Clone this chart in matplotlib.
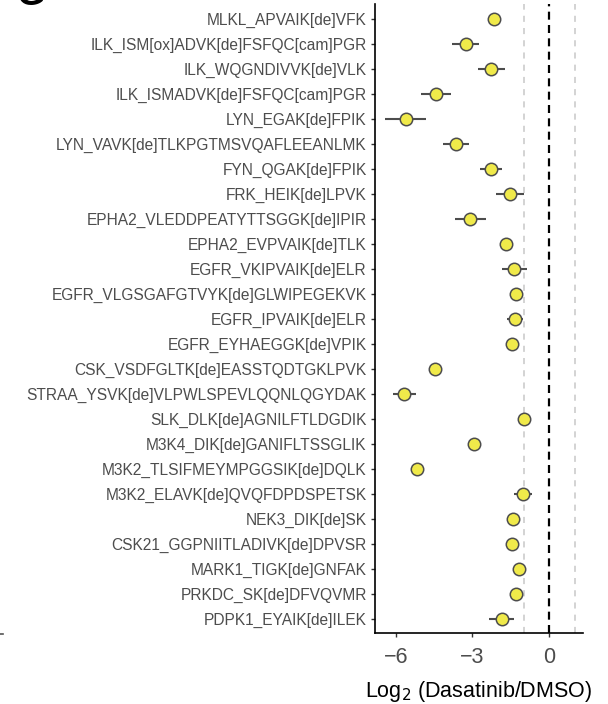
import numpy as np
import matplotlib
matplotlib.use("Agg")
from matplotlib import pyplot as plt
from matplotlib.lines import Line2D

plt.rcParams['font.family'] = ['Liberation Sans', 'DejaVu Sans']

# peptides, top to bottom
peptides = [
    "MLKL_APVAIK[de]VFK",
    "ILK_ISM[ox]ADVK[de]FSFQC[cam]PGR",
    "ILK_WQGNDIVVK[de]VLK",
    "ILK_ISMADVK[de]FSFQC[cam]PGR",
    "LYN_EGAK[de]FPIK",
    "LYN_VAVK[de]TLKPGTMSVQAFLEEANLMK",
    "FYN_QGAK[de]FPIK",
    "FRK_HEIK[de]LPVK",
    "EPHA2_VLEDDPEATYTTSGGK[de]IPIR",
    "EPHA2_EVPVAIK[de]TLK",
    "EGFR_VKIPVAIK[de]ELR",
    "EGFR_VLGSGAFGTVYK[de]GLWIPEGEKVK",
    "EGFR_IPVAIK[de]ELR",
    "EGFR_EYHAEGGK[de]VPIK",
    "CSK_VSDFGLTK[de]EASSTQDTGKLPVK",
    "STRAA_YSVK[de]VLPWLSPEVLQQNLQGYDAK",
    "SLK_DLK[de]AGNILFTLDGDIK",
    "M3K4_DIK[de]GANIFLTSSGLIK",
    "M3K2_TLSIFMEYMPGGSIK[de]DQLK",
    "M3K2_ELAVK[de]QVQFDPDSPETSK",
    "NEK3_DIK[de]SK",
    "CSK21_GGPNIITLADIVK[de]DPVSR",
    "MARK1_TIGK[de]GNFAK",
    "PRKDC_SK[de]DFVQVMR",
    "PDPK1_EYAIK[de]ILEK",
]

log2fc = [-2.16, -3.27, -2.26, -4.44, -5.61, -3.65, -2.26, -1.52, -3.09, -1.69,
          -1.36, -1.31, -1.33, -1.45, -4.46, -5.67, -1.00, -2.94, -5.16, -1.01,
          -1.41, -1.45, -1.16, -1.31, -1.86]

err = [0.10, 0.52, 0.54, 0.59, 0.80, 0.52, 0.43, 0.54, 0.60, 0.10,
       0.49, 0.12, 0.30, 0.10, 0.08, 0.45, 0.08, 0.05, 0.10, 0.35,
       0.08, 0.08, 0.06, 0.08, 0.49]

xticks = [-6, -3, 0]

fig = plt.figure(figsize=(6.08, 7.04), dpi=100)
ax = fig.add_axes([375 / 608, 1 - 633 / 704, 208 / 608, 629 / 704])

n = len(peptides)
ypos = np.arange(n, 0, -1)

ax.axvline(-1, color='#c8c8c8', lw=1.1, dashes=(4, 4), zorder=1)
ax.axvline(1, color='#c8c8c8', lw=1.1, dashes=(4, 4), zorder=1)
ax.axvline(0, color='black', lw=1.6, dashes=(3.6, 2.4), zorder=1)

ax.errorbar(log2fc, ypos, xerr=err, fmt='none', ecolor='#4d4d4d',
            elinewidth=1.5, capsize=0, zorder=2)
ax.scatter(log2fc, ypos, s=80, facecolor='#F0EA4A', edgecolor='#4d4d4d',
           linewidth=1.1, zorder=3)

ax.set_xlim(-6.82, 1.33)
ax.set_ylim(0.42, n + 0.6)
ax.set_yticks(ypos)
ax.set_yticklabels(peptides, fontsize=11.2, color='#4d4d4d')
ax.set_xticks(xticks)
ax.set_xticklabels(['\u2212' + str(abs(t)) if t < 0 else str(t) for t in xticks],
                   fontsize=15.5, color='#4d4d4d')
ax.tick_params(axis='both', length=3, width=1, color='#333333', pad=3)
ax.tick_params(axis='x', pad=7)

for s in ['top', 'right']:
    ax.spines[s].set_visible(False)
for s in ['left', 'bottom']:
    ax.spines[s].set_linewidth(1.2)
    ax.spines[s].set_color('black')

ax.set_xlabel('Log$_2$ (Dasatinib/DMSO)', fontsize=15.5, color='black', labelpad=8)

# panel letter, mostly cut off at the top edge
fig.text(16 / 608, 1 - 5 / 704, 'G', fontsize=26, fontweight='bold',
         va='baseline', ha='left')
fig.add_artist(Line2D([0, 3 / 608], [1 - 634 / 704, 1 - 634 / 704],
                      color='#555555', lw=1.2))

fig.savefig('out.png', dpi=100)
